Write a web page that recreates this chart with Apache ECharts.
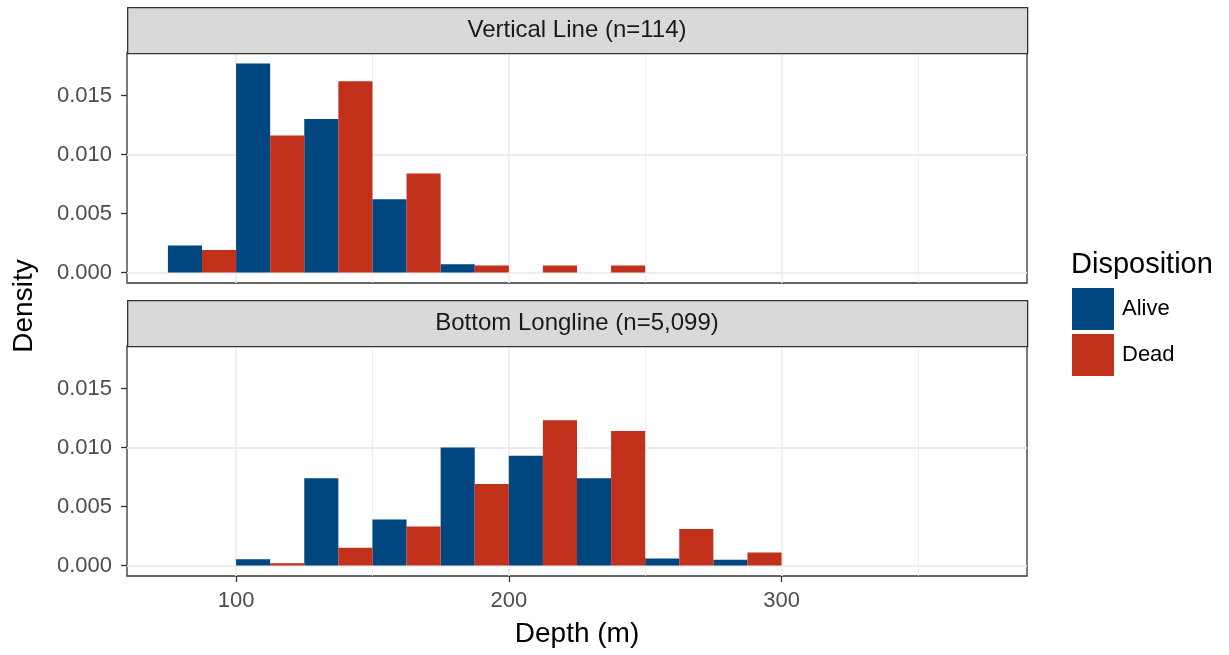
<!doctype html>
<html>
<head>
<meta charset="utf-8">
<title>Depth by disposition</title>
<style>
    html, body { margin: 0; padding: 0; background: #fff; }
    #main { width: 1229px; height: 655px; }
</style>
</head>
<body>
<div id="main"></div>
<script src="https://cdn.jsdelivr.net/npm/echarts@6/dist/echarts.min.js"></script>
<script>
// histogram bins (25 m wide), density per disposition
var binStarts = [75, 100, 125, 150, 175, 200, 225, 250, 275];
var binWidth = 25;
var vlAlive = [0.0023, 0.0177, 0.0130, 0.0062, 0.0007, 0, 0, 0, 0];
var vlDead  = [0.0019, 0.0116, 0.0162, 0.0084, 0.0006, 0.0006, 0.0006, 0, 0];
var blAlive = [0, 0.00054, 0.0074, 0.0039, 0.0100, 0.0093, 0.0074, 0.0006, 0.0005];
var blDead  = [0, 0.0002, 0.0015, 0.0033, 0.0069, 0.0123, 0.0114, 0.0031, 0.0011];
var panelTitles = ['Vertical Line (n=114)', 'Bottom Longline (n=5,099)'];
var xBreaks = [100, 200, 300];
var xMinor = [150, 250, 350];
var yBreaks = [0, 0.005, 0.010, 0.015];
var yMinor = [0.0025, 0.0075, 0.0125, 0.0175];

var BLUE = '#00467f';
var RED = '#c0301a';
var FONT = '"Liberation Sans", Arial, sans-serif';

var panels = [
    { top: 53, height: 230, strip: 7 },
    { top: 346, height: 230, strip: 300 }
];
var L = 127, W = 900, STRIP_H = 46;

function histItem(side) {
    return function (params, api) {
        var start = api.value(0), v = api.value(1);
        if (!v) return null;
        var half = binWidth / 2;
        var x0 = start + side * half;
        var p0 = api.coord([x0, 0]);
        var p1 = api.coord([x0 + half, v]);
        return {
            type: 'rect',
            shape: { x: p0[0], y: p1[1], width: p1[0] - p0[0], height: p0[1] - p1[1] },
            style: api.style()
        };
    };
}

function pairs(vals) {
    return binStarts.map(function (s, i) { return [s, vals[i]]; });
}

// panel grid lines, kept under the bars
function gridLines(idx) {
    var d = [];
    yMinor.forEach(function (v) { d.push({ yAxis: v, lineStyle: { width: 0.8 } }); });
    xMinor.forEach(function (v) { d.push({ xAxis: v, lineStyle: { width: 0.8 } }); });
    yBreaks.forEach(function (v) { d.push({ yAxis: v, lineStyle: { width: 1.6 } }); });
    xBreaks.forEach(function (v) { d.push({ xAxis: v, lineStyle: { width: 1.6 } }); });
    return {
        type: 'line', xAxisIndex: idx, yAxisIndex: idx, data: [], z: 0, silent: true,
        markLine: {
            silent: true, symbol: 'none', animation: false, z: 0,
            label: { show: false },
            lineStyle: { color: '#ebebeb', type: 'solid' },
            data: d
        }
    };
}

var chart = echarts.init(document.getElementById('main'));

var grids = [], xAxes = [], yAxes = [], graphics = [];
panels.forEach(function (p, i) {
    grids.push({ left: L, top: p.top, width: W, height: p.height, show: true, borderColor: '#333', borderWidth: 1.3 });
    xAxes.push({
        type: 'value', gridIndex: i, min: 60, max: 390,
        axisLine: { show: false, onZero: false },
        splitLine: { show: false },
        axisTick: { show: i === 1, customValues: xBreaks, length: 6, lineStyle: { color: '#333', width: 1.3 } },
        axisLabel: {
            show: i === 1, customValues: xBreaks, margin: 14,
            color: '#4d4d4d', fontSize: 22, fontFamily: FONT
        }
    });
    yAxes.push({
        type: 'value', gridIndex: i, min: -0.000886, max: 0.018597,
        axisLine: { show: false, onZero: false },
        splitLine: { show: false },
        axisTick: { show: true, customValues: yBreaks, length: 6, lineStyle: { color: '#333', width: 1.3 } },
        axisLabel: {
            customValues: yBreaks, margin: 15,
            color: '#4d4d4d', fontSize: 22, fontFamily: FONT,
            formatter: function (v) { return v.toFixed(3); }
        }
    });
    graphics.push({
        type: 'rect', left: L, top: p.strip, z: 10,
        shape: { width: W, height: STRIP_H },
        style: { fill: '#d9d9d9', stroke: '#333', lineWidth: 1.3 }
    });
    graphics.push({
        type: 'text', x: L + W / 2, y: p.strip + STRIP_H / 2, z: 11,
        style: {
            text: panelTitles[i], fill: '#1a1a1a', font: '24px ' + FONT,
            textAlign: 'center', textVerticalAlign: 'middle'
        }
    });
});

graphics.push({
    type: 'text', x: 24, y: 306, rotation: Math.PI / 2,
    style: { text: 'Density', fill: '#000', font: '28px ' + FONT, textAlign: 'center', textVerticalAlign: 'middle' }
});
graphics.push({
    type: 'text', x: L + W / 2, y: 634,
    style: { text: 'Depth (m)', fill: '#000', font: '28px ' + FONT, textAlign: 'center', textVerticalAlign: 'middle' }
});
graphics.push({
    type: 'text', x: 1071, y: 265,
    style: { text: 'Disposition', fill: '#000', font: '29px ' + FONT, textAlign: 'left', textVerticalAlign: 'middle' }
});

var series = [gridLines(0), gridLines(1)];
[[vlAlive, vlDead], [blAlive, blDead]].forEach(function (vals, i) {
    series.push({
        name: 'Alive', type: 'custom', xAxisIndex: i, yAxisIndex: i,
        renderItem: histItem(0), itemStyle: { color: BLUE },
        encode: { x: 0, y: 1 }, data: pairs(vals[0]), z: 2
    });
    series.push({
        name: 'Dead', type: 'custom', xAxisIndex: i, yAxisIndex: i,
        renderItem: histItem(1), itemStyle: { color: RED },
        encode: { x: 0, y: 1 }, data: pairs(vals[1]), z: 2
    });
});

chart.setOption({
    animation: false,
    backgroundColor: '#fff',
    grid: grids,
    xAxis: xAxes,
    yAxis: yAxes,
    legend: {
        data: ['Alive', 'Dead'],
        orient: 'vertical', left: 1072, top: 288, padding: 0,
        itemWidth: 42, itemHeight: 42, itemGap: 4, icon: 'rect',
        textStyle: { fontSize: 22, color: '#000', fontFamily: FONT, padding: [0, 0, 0, 3] },
        selectedMode: false
    },
    graphic: graphics,
    series: series
});
</script>
</body>
</html>
